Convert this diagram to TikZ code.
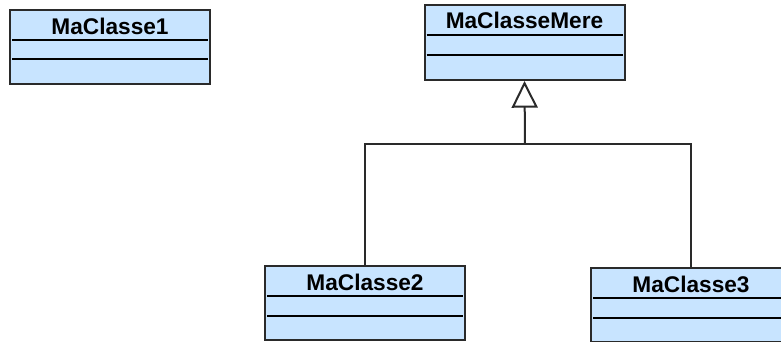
\documentclass[tikz,border=0pt]{standalone}
\usepackage{fontspec}
\setmainfont{Liberation Sans}
\usepackage{tikz}
\usetikzlibrary{arrows.meta,calc}
\definecolor{umlfill}{HTML}{C8E4FF}
\definecolor{umlborder}{HTML}{2A2A2A}

\begin{document}
\begin{tikzpicture}[x=0.75pt,y=-0.75pt,
 classbox/.style={draw=umlborder,fill=umlfill,line width=1.5pt,
 minimum width=150pt,minimum height=55.5pt,inner sep=0pt},
 classname/.style={anchor=base,inner sep=0pt,font=\bfseries\fontsize{17}{20}\selectfont},
 compart/.style={draw=black,line width=1.1pt},
 inherit/.style={draw=umlborder,line width=1.5pt}]
\useasboundingbox (0,0) rectangle (781,342);
\clip (0,0) rectangle (781,342);
% classes
\node[classbox] (c1) at (110,47) {};
\node[classname] (c1name) at ($(c1.north)+(0,26)$) {MaClasse1};
\draw[compart] ($(c1.north west)+(3,31)$)--($(c1.north east)+(-3,31)$);
\draw[compart] ($(c1.north west)+(3,50)$)--($(c1.north east)+(-3,50)$);
\node[classbox,minimum height=56.25pt] (mere) at (524.5,42.5) {};
\node[classname] (merename) at ($(mere.north)+(0,25)$) {MaClasseMere};
\draw[compart] ($(mere.north west)+(3,31)$)--($(mere.north east)+(-3,31)$);
\draw[compart] ($(mere.north west)+(3,51)$)--($(mere.north east)+(-3,51)$);
\node[classbox] (c2) at (365,303) {};
\node[classname] (c2name) at ($(c2.north)+(0,25)$) {MaClasse2};
\draw[compart] ($(c2.north west)+(3,31)$)--($(c2.north east)+(-3,31)$);
\draw[compart] ($(c2.north west)+(3,51)$)--($(c2.north east)+(-3,51)$);
\node[classbox] (c3) at (691,305) {};
\node[classname] (c3name) at ($(c3.north)+(0,25)$) {MaClasse3};
\draw[compart] ($(c3.north west)+(3,31)$)--($(c3.north east)+(-3,31)$);
\draw[compart] ($(c3.north west)+(3,51)$)--($(c3.north east)+(-3,51)$);
% generalisation
\coordinate (split) at (525,144);
\draw[inherit] (c2.north)|-(split)-|(c3.north);
\draw[inherit,-{Triangle[open,length=20pt,width=19.5pt,fill=white]}] (split)--(mere.south);
\end{tikzpicture}
\end{document}
